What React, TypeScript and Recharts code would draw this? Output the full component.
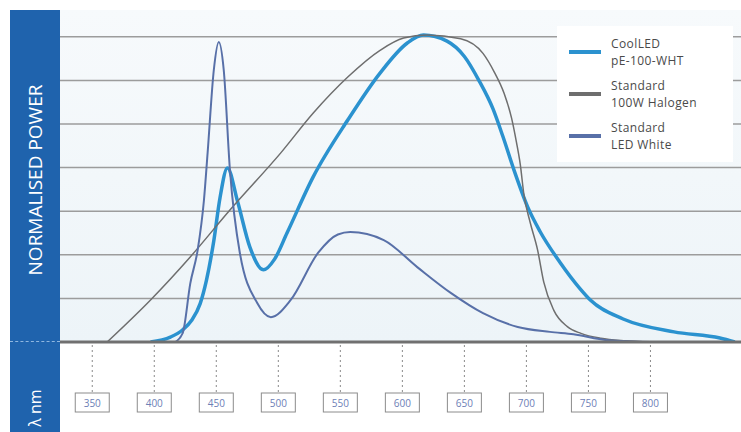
import { LineChart, Line, XAxis, YAxis, ReferenceLine } from "recharts";

// Wavelengths (nm) and normalised power
const COOL_NM = [397, 413, 423, 430, 437, 442, 448, 453, 459, 467, 477, 488, 497, 507, 528, 556, 582, 604, 617, 636, 650, 662, 673, 681, 690, 701, 711, 727, 743, 752, 778, 819, 856, 868];
const COOL_PW = [0, 0.016, 0.04, 0.07, 0.125, 0.2, 0.33, 0.47, 0.567, 0.46, 0.31, 0.235, 0.27, 0.355, 0.537, 0.723, 0.876, 0.974, 1.0, 0.98, 0.93, 0.85, 0.76, 0.67, 0.56, 0.44, 0.36, 0.26, 0.175, 0.135, 0.075, 0.033, 0.013, 0];

const HALO_NM = [362, 397, 429, 461, 502, 528, 556, 582, 601, 620, 647, 665, 674, 682, 688, 692, 695, 698, 703, 709, 714, 722, 733, 744, 760, 780, 800];
const HALO_PW = [0, 0.137, 0.277, 0.43, 0.616, 0.745, 0.863, 0.95, 0.99, 1.0, 0.988, 0.94, 0.88, 0.81, 0.73, 0.65, 0.58, 0.48, 0.39, 0.3, 0.195, 0.104, 0.05, 0.028, 0.012, 0.004, 0];

const LED_NM = [417, 423, 429, 435, 440, 443, 448, 452, 456, 461, 469, 483, 494, 510, 532, 548, 558, 585, 612, 639, 665, 693, 719, 738, 765, 800];
const LED_PW = [0, 0.03, 0.19, 0.3, 0.46, 0.616, 0.886, 0.977, 0.886, 0.56, 0.29, 0.127, 0.081, 0.137, 0.29, 0.35, 0.358, 0.332, 0.244, 0.16, 0.094, 0.049, 0.033, 0.025, 0.006, 0];

const NM_TICKS = [350, 400, 450, 500, 550, 600, 650, 700, 750, 800];
const GRID_STEPS = [1, 2, 3, 4, 5, 6, 7];

const SERIES = [
  { name: "CoolLED\npE-100-WHT", nm: COOL_NM, pw: COOL_PW, color: "#2b92cf", width: 3.5 },
  { name: "Standard\n100W Halogen", nm: HALO_NM, pw: HALO_PW, color: "#6e6e6e", width: 1.5 },
  { name: "Standard\nLED White", nm: LED_NM, pw: LED_PW, color: "#5870a8", width: 2 },
];

const FONT = "'Open Sans', 'Liberation Sans', sans-serif";

function BoxTick(props: any) {
  const { x, y, payload } = props;
  return (
    <g>
      <line x1={x} x2={x} y1={y + 3} y2={y + 51} stroke="#8a8a8a" strokeWidth={1} strokeDasharray="2 3" />
      <rect x={x - 17} y={y + 51} width={34} height={19} fill="#fff" stroke="#8c8c8c" strokeWidth={1} />
      <text x={x} y={y + 64.5} textAnchor="middle" fontSize={10} fill="#6d80b6" fontFamily={FONT}>
        {payload.value}
      </text>
    </g>
  );
}

function LegendBox() {
  return (
    <div
      style={{
        position: "absolute",
        left: 557,
        top: 26,
        width: 158,
        padding: "5px 6px 5px 12px",
        background: "#fff",
        fontFamily: FONT,
      }}
    >
      {SERIES.map((s) => {
        const [l1, l2] = s.name.split("\n");
        return (
          <div key={s.name} style={{ display: "flex", alignItems: "center", height: 42 }}>
            <div style={{ width: 32, height: 4, background: s.color, marginRight: 10, flexShrink: 0 }} />
            <div style={{ fontSize: 12, lineHeight: "17px", color: "#4a4a4a", letterSpacing: 0.4 }}>
              <div>{l1}</div>
              <div>{l2}</div>
            </div>
          </div>
        );
      })}
    </div>
  );
}

export default function App() {
  return (
    <div style={{ position: "absolute", left: 0, top: 0, width: 741, height: 432, background: "#fff", overflow: "hidden" }}>
      <LineChart width={741} height={432} margin={{ top: 10, right: 0, left: 60, bottom: 0 }}>
        <defs>
          <linearGradient id="bg" x1="0" y1="0" x2="0" y2="1">
            <stop offset="0%" stopColor="#f7fafc" />
            <stop offset="100%" stopColor="#edf4f8" />
          </linearGradient>
        </defs>
        <rect x={60} y={10} width={681} height={332} fill="url(#bg)" />
        <XAxis
          type="number"
          dataKey="nm"
          domain={[324, 873]}
          ticks={NM_TICKS}
          allowDataOverflow
          height={90}
          tickLine={false}
          tickSize={0}
          tickMargin={0}
          axisLine={{ stroke: "#707070", strokeWidth: 3 }}
          tick={<BoxTick />}
          interval={0}
        />
        <YAxis type="number" domain={[0, 1.0814]} hide allowDataOverflow />
        {GRID_STEPS.map((k) => (
          <ReferenceLine key={k} y={k * 0.142} stroke="#9c9c9c" strokeWidth={1.5} />
        ))}
        {SERIES.map((s) => (
          <Line
            key={s.name}
            data={s.nm.map((nm, i) => ({ nm, pw: s.pw[i] }))}
            dataKey="pw"
            type="monotone"
            stroke={s.color}
            strokeWidth={s.width}
            dot={false}
            isAnimationActive={false}
          />
        ))}
      </LineChart>
      <LegendBox />
      <div style={{ position: "absolute", left: 10, top: 10, width: 50, height: 422, background: "#1f63ad" }} />
      <div style={{ position: "absolute", left: 10, top: 341, width: 50, borderTop: "1px dashed #8fb7e0" }} />
      <div
        style={{
          position: "absolute",
          left: 35,
          top: 180,
          transform: "translate(-50%, -50%) rotate(-90deg)",
          color: "#fff",
          fontFamily: FONT,
          fontSize: 19,
          whiteSpace: "nowrap",
        }}
      >
        NORMALISED POWER
      </div>
      <div
        style={{
          position: "absolute",
          left: 35,
          top: 408,
          transform: "translate(-50%, -50%) rotate(-90deg)",
          color: "#fff",
          fontFamily: FONT,
          fontSize: 16,
          whiteSpace: "nowrap",
        }}
      >
        λ nm
      </div>
    </div>
  );
}
